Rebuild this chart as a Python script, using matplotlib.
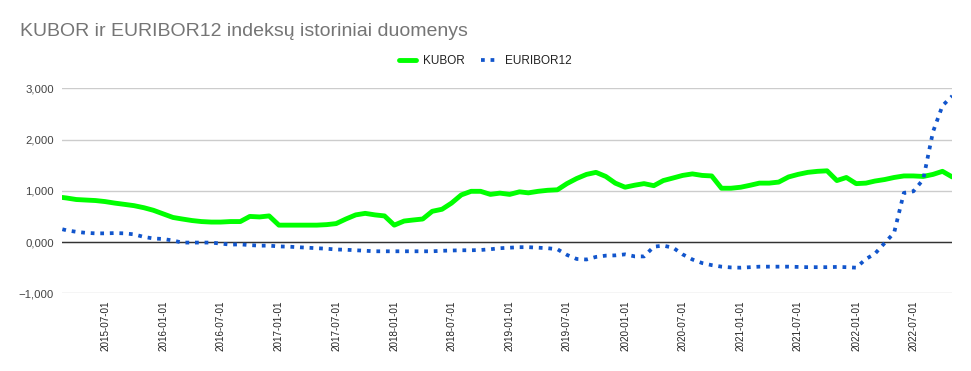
import pandas as pd
import matplotlib
matplotlib.use("Agg")
import matplotlib.pyplot as plt
from matplotlib.ticker import FuncFormatter
import matplotlib.dates as mdates

plt.rcParams["font.family"] = ["Liberation Sans", "DejaVu Sans"]

# first observation mid-February, then monthly
dates = pd.to_datetime(["2015-02-16"] + list(pd.date_range("2015-03-01", "2022-11-01", freq="MS").strftime("%Y-%m-%d")))

kubor = [
    0.87, 0.86, 0.83, 0.82, 0.81, 0.79, 0.76, 0.735, 0.71, 0.67,
    0.62, 0.55, 0.48, 0.45, 0.42, 0.40, 0.39, 0.39, 0.40, 0.40,
    0.50, 0.49, 0.51, 0.33, 0.33, 0.33, 0.33, 0.33, 0.34, 0.36,
    0.45, 0.53, 0.56, 0.53, 0.51, 0.33, 0.41, 0.43, 0.45, 0.60,
    0.64, 0.76, 0.92, 0.99, 0.99, 0.93, 0.955, 0.93, 0.98, 0.96,
    0.99, 1.01, 1.02, 1.14, 1.24, 1.32, 1.36, 1.28, 1.15, 1.07,
    1.11, 1.14, 1.10, 1.20, 1.25, 1.30, 1.33, 1.30, 1.29, 1.05,
    1.05, 1.07, 1.11, 1.15, 1.15, 1.17, 1.27, 1.32, 1.36, 1.38,
    1.39, 1.20, 1.26, 1.14, 1.15, 1.19, 1.22, 1.26, 1.29, 1.29,
    1.28, 1.32, 1.38, 1.27,
]

euribor12 = [
    0.25, 0.23, 0.20, 0.18, 0.17, 0.17, 0.175, 0.17, 0.15, 0.10,
    0.07, 0.06, 0.03, -0.01, -0.01, -0.01, -0.01, -0.03, -0.05, -0.045,
    -0.06, -0.07, -0.07, -0.085, -0.09, -0.10, -0.11, -0.12, -0.13, -0.145,
    -0.15, -0.16, -0.17, -0.18, -0.18, -0.18, -0.18, -0.18, -0.18, -0.18,
    -0.17, -0.165, -0.16, -0.16, -0.155, -0.14, -0.12, -0.11, -0.10, -0.10,
    -0.11, -0.12, -0.14, -0.25, -0.33, -0.34, -0.29, -0.265, -0.26, -0.24,
    -0.28, -0.28, -0.09, -0.07, -0.11, -0.24, -0.34, -0.41, -0.45, -0.48,
    -0.495, -0.50, -0.49, -0.48, -0.48, -0.48, -0.48, -0.485, -0.49, -0.49,
    -0.49, -0.485, -0.49, -0.50, -0.33, -0.23, -0.02, 0.18, 0.96, 0.99,
    1.22, 2.15, 2.66, 2.85,
]

tick_dates = pd.date_range("2015-07-01", "2022-07-01", freq="6MS")
y_ticks = [-1, 0, 1, 2, 3]

GREEN = "#00ff00"
BLUE = "#1155cc"


def fmt_y(v, pos):
    s = f"{abs(v):,.3f}".replace(".", ",")
    return ("\u2212" + s) if v < 0 else s


fig = plt.figure(figsize=(9.71, 3.71), dpi=100)
ax = fig.add_axes([0.0642, 0.2094, 0.9165, 0.5526])

ax.plot(dates, kubor, color=GREEN, linewidth=3.5, solid_joinstyle="round",
        solid_capstyle="round", zorder=3, label="KUBOR")
ax.plot(dates, euribor12, color=BLUE, linewidth=2.7, linestyle=(0, (1, 1.55)),
        zorder=4, label="EURIBOR12")
ax.axhline(0, color="#333333", linewidth=1.0, zorder=2)

ax.set_xlim(dates[0], dates[-1])
ax.set_ylim(-1, 3)
ax.set_yticks(y_ticks)
ax.yaxis.set_major_formatter(FuncFormatter(fmt_y))
ax.set_xticks(tick_dates)
ax.xaxis.set_major_formatter(mdates.DateFormatter("%Y-%m-%d"))
plt.setp(ax.get_xticklabels(), rotation=90, va="top", ha="center")

ax.grid(axis="y", color="#cccccc", linewidth=1.0, zorder=1)
ax.grid(axis="x", visible=False)
for s in ax.spines.values():
    s.set_visible(False)
ax.tick_params(axis="both", length=0, colors="#222222")
ax.tick_params(axis="y", pad=6, labelsize=8.2, colors="#444444")
ax.tick_params(axis="x", pad=5, labelsize=7.1)

fig.text(0.0206, 0.916, "KUBOR ir EURIBOR12 indeksų istoriniai duomenys",
         fontsize=14, color="#757575", va="center", ha="left")

fig.legend(loc="center", bbox_to_anchor=(0.5, 0.836), ncol=2, frameon=False,
           fontsize=8.5, handlelength=1.4, columnspacing=1.4, handletextpad=0.6,
           labelcolor="#222222")

fig.savefig("out.png", dpi=100, facecolor="white")
